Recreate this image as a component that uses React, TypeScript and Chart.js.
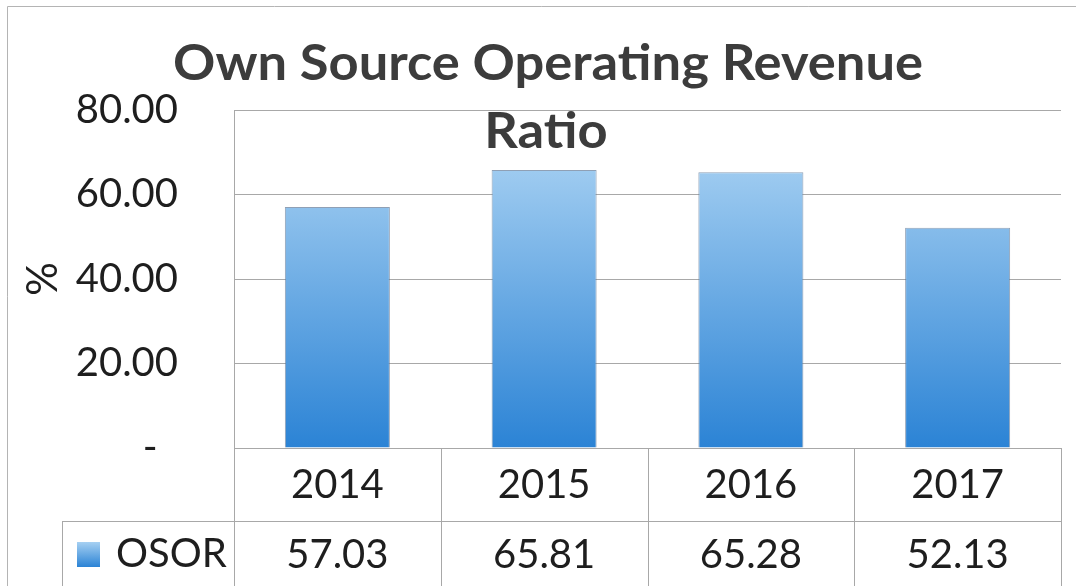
import React, { useEffect, useRef } from 'react';
import { Chart, registerables } from 'chart.js';

Chart.register(...registerables);

const categories = ['2014', '2015', '2016', '2017'];
const seriesName = 'OSOR';
const osorValues = [57.03, 65.81, 65.28, 52.13];
const tableValues = ['57.03', '65.81', '65.28', '52.13'];
const yTickValues = [0, 20, 40, 60, 80];
const titleLines = ['Own Source Operating Revenue', 'Ratio'];
const yAxisTitle = '%';

const FONT = 'Lato, "Open Sans", "Noto Sans", sans-serif';
const LINE = '#a8a8a8';
const TEXT = '#1e1e1e';

function barGradient(ctx: CanvasRenderingContext2D, top: number, bottom: number) {
  const g = ctx.createLinearGradient(0, bottom, 0, top);
  g.addColorStop(0, '#2b83d5');
  g.addColorStop(1, '#a6d0f2');
  return g;
}

const decorPlugin = {
  id: 'decor',
  afterDraw(chart: any) {
    const ctx: CanvasRenderingContext2D = chart.ctx;
    const area = chart.chartArea;
    const xs = chart.scales.x;
    const labels: string[] = chart.data.labels;
    const n = labels.length;
    const cw = (area.right - area.left) / n;
    const rowTop = area.bottom;
    const row2Top = rowTop + 73;
    const bottom = chart.height + 5;

    ctx.save();
    // outer frame (left & top)
    ctx.strokeStyle = '#b4b4b4';
    ctx.lineWidth = 1;
    ctx.beginPath();
    ctx.moveTo(7.5, chart.height);
    ctx.lineTo(7.5, 6.5);
    ctx.lineTo(chart.width, 6.5);
    ctx.stroke();

    // data table lines
    ctx.strokeStyle = LINE;
    ctx.beginPath();
    for (let i = 0; i < n; i++) {
      const cx = xs.getPixelForValue(i);
      const bx = Math.round(cx - cw / 2) + 0.5;
      ctx.moveTo(bx, rowTop);
      ctx.lineTo(bx, bottom);
    }
    const rx = Math.round(area.right) + 0.5;
    ctx.moveTo(rx, rowTop);
    ctx.lineTo(rx, bottom);
    ctx.moveTo(62.5, row2Top + 0.5);
    ctx.lineTo(rx, row2Top + 0.5);
    ctx.moveTo(62.5, row2Top);
    ctx.lineTo(62.5, bottom);
    ctx.stroke();

    // table text
    ctx.fillStyle = TEXT;
    ctx.font = `40px ${FONT}`;
    ctx.textAlign = 'center';
    ctx.textBaseline = 'alphabetic';
    for (let i = 0; i < n; i++) {
      const cx = xs.getPixelForValue(i);
      ctx.fillText(labels[i], cx, 498);
      ctx.fillText(tableValues[i], cx, 568);
    }
    // legend key
    ctx.fillStyle = barGradient(ctx, 542, 567);
    ctx.fillRect(77, 542, 23, 25);
    ctx.fillStyle = TEXT;
    ctx.textAlign = 'left';
    ctx.fillText(seriesName, 116, 567);

    // title (Calibri-like proportions: tall glyphs, compressed horizontally)
    const size = 49;
    ctx.font = `bold ${size}px ${FONT}`;
    const w = ctx.measureText(titleLines[0]).width;
    const sx = 750 / w;
    ctx.fillStyle = '#3c3c3c';
    ctx.textAlign = 'center';
    ctx.save();
    ctx.translate(548, 80);
    ctx.scale(sx, 1);
    ctx.fillText(titleLines[0], 0, 0);
    ctx.restore();
    ctx.save();
    ctx.translate(546, 148);
    ctx.scale(sx, 1);
    ctx.fillText(titleLines[1], 0, 0);
    ctx.restore();
    ctx.restore();
  },
};

export default function App() {
  const canvasRef = useRef<HTMLCanvasElement | null>(null);

  useEffect(() => {
    const canvas = canvasRef.current;
    if (!canvas) return;
    const chart = new Chart(canvas, {
      type: 'bar',
      data: {
        labels: categories,
        datasets: [
          {
            label: seriesName,
            data: osorValues,
            backgroundColor: (c: any) => {
              const a = c.chart.chartArea;
              if (!a) return '#5aa2e0';
              return barGradient(c.chart.ctx, a.top + 40, a.bottom);
            },
            borderColor: 'rgba(95,120,150,0.7)',
            borderWidth: 1,
            categoryPercentage: 0.8,
            barPercentage: 0.635,
          },
        ],
      },
      options: {
        responsive: false,
        animation: false,
        devicePixelRatio: 1,
        layout: { padding: { top: 110, right: 15, left: 0, bottom: 0 } },
        plugins: {
          legend: { display: false },
          title: { display: false },
          tooltip: { enabled: false },
        },
        scales: {
          x: {
            ticks: { display: false },
            grid: { display: false, drawTicks: false },
            border: { display: false },
            afterFit: (s: any) => {
              s.height = 138;
            },
          },
          y: {
            min: 0,
            max: 80,
            afterBuildTicks: (s: any) => {
              s.ticks = yTickValues.map((v) => ({ value: v }));
            },
            ticks: {
              font: { family: FONT, size: 40 },
              color: TEXT,
              padding: 56,
              callback: (v: any) => (Number(v) === 0 ? '-  ' : Number(v).toFixed(2)),
            },
            grid: { color: LINE, lineWidth: 1, drawTicks: false },
            border: { display: true, color: LINE },
            title: {
              display: true,
              text: yAxisTitle,
              font: { family: FONT, size: 42 },
              color: TEXT,
              padding: { top: 18, bottom: 0 },
            },
            afterFit: (s: any) => {
              s.width = 234;
            },
          },
        },
      },
      plugins: [decorPlugin],
    } as any);
    return () => chart.destroy();
  }, []);

  return (
    <div style={{ position: 'absolute', left: 0, top: 0, width: 1076, height: 586, background: '#fff' }}>
      <canvas ref={canvasRef} width={1076} height={586} />
    </div>
  );
}
